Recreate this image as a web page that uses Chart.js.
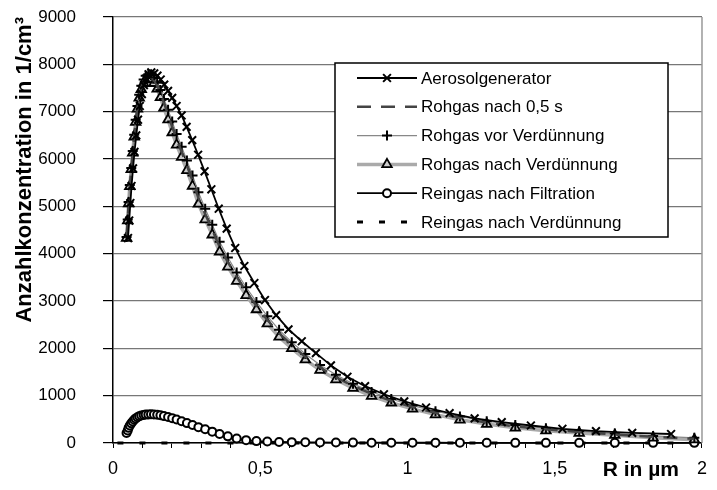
<!DOCTYPE html>
<html>
<head>
<meta charset="utf-8">
<script src="https://cdn.jsdelivr.net/npm/chart.js@4/dist/chart.umd.min.js"></script>
<style>
  html, body { margin: 0; padding: 0; background: #fff; }
  #wrap { width: 717px; height: 490px; }
</style>
</head>
<body>
<div id="wrap"><canvas id="chart"></canvas></div>
<script>
// radius grids (µm), two slightly offset sampling grids as seen in the markers
const gridA = [0.051, 0.055, 0.059, 0.063, 0.068, 0.073, 0.079, 0.085, 0.091, 0.098, 0.105, 0.113, 0.121, 0.130, 0.140, 0.151, 0.162, 0.174, 0.187, 0.201, 0.216, 0.233, 0.250, 0.269, 0.289, 0.311, 0.334, 0.359, 0.386, 0.415, 0.446, 0.480, 0.516, 0.554, 0.596, 0.641, 0.689, 0.740, 0.796, 0.856, 0.920, 0.989, 1.063, 1.143, 1.228, 1.320, 1.419, 1.526, 1.640, 1.763, 1.895]
const gridB = [0.046, 0.050, 0.053, 0.057, 0.062, 0.067, 0.072, 0.077, 0.083, 0.089, 0.096, 0.104, 0.111, 0.120, 0.129, 0.139, 0.150, 0.161, 0.173, 0.187, 0.201, 0.216, 0.233, 0.251, 0.270, 0.290, 0.313, 0.337, 0.362, 0.390, 0.420, 0.452, 0.487, 0.524, 0.564, 0.607, 0.653, 0.703, 0.757, 0.815, 0.878, 0.945, 1.017, 1.095, 1.178, 1.269, 1.366, 1.470, 1.583, 1.704, 1.834, 1.974]
const gridZero = [0.015, 0.5, 1.0, 1.5, 2.0]

// Anzahlkonzentration in 1/cm³
const aerosolgenerator = [4330, 4700, 5070, 5430, 5800, 6150, 6500, 6830, 7120, 7370, 7560, 7700, 7790, 7830, 7810, 7760, 7680, 7570, 7440, 7290, 7120, 6920, 6680, 6400, 6090, 5740, 5360, 4950, 4530, 4120, 3740, 3380, 3020, 2700, 2400, 2150, 1900, 1640, 1400, 1200, 1030, 880, 750, 630, 520, 440, 370, 300, 250, 215, 190]
const rohgasNach05s = [4340, 4710, 5070, 5430, 5790, 6150, 6490, 6800, 7090, 7320, 7510, 7640, 7720, 7750, 7730, 7660, 7550, 7390, 7180, 6940, 6680, 6420, 6150, 5860, 5540, 5180, 4840, 4500, 4150, 3820, 3510, 3200, 2900, 2600, 2320, 2070, 1820, 1600, 1390, 1210, 1040, 890, 760, 640, 530, 430, 350, 290, 230, 180, 130, 90]
const rohgasVorVerd = [4350, 4720, 5090, 5450, 5810, 6170, 6510, 6830, 7120, 7360, 7550, 7680, 7760, 7790, 7770, 7710, 7610, 7460, 7270, 7040, 6790, 6530, 6260, 5970, 5650, 5300, 4950, 4610, 4250, 3920, 3600, 3290, 2980, 2680, 2390, 2130, 1880, 1650, 1440, 1250, 1080, 930, 790, 670, 560, 460, 380, 310, 250, 200, 150, 110]
const rohgasNachVerd = [4330, 4700, 5060, 5420, 5780, 6130, 6470, 6780, 7060, 7290, 7470, 7600, 7680, 7700, 7680, 7600, 7480, 7300, 7080, 6830, 6560, 6300, 6040, 5760, 5430, 5050, 4720, 4400, 4040, 3720, 3420, 3120, 2820, 2520, 2240, 2000, 1760, 1540, 1340, 1160, 990, 850, 720, 600, 490, 400, 320, 260, 210, 165, 110, 70]
const reingasFiltration = [210, 265, 320, 370, 415, 455, 490, 520, 545, 565, 580, 592, 600, 604, 605, 603, 597, 585, 568, 550, 525, 495, 460, 420, 380, 335, 290, 240, 190, 140, 95, 60, 40, 30, 22, 18, 15, 12, 10, 8, 7, 6, 5, 5, 4, 4, 3, 3, 3, 3, 3, 3]
const reingasVerd = [0, 0, 0, 0, 0]

const xLabels = [0, 0.5, 1, 1.5, 2]

const font = "'Liberation Sans', Arial, sans-serif"
const pairs = (xs, ys) => ys.map((y, i) => ({ x: xs[i], y }))

const overlay = {
  id: 'overlay',
  beforeDatasetsDraw(chart) {
    const { ctx, chartArea } = chart
    ctx.save()
    ctx.strokeStyle = '#999'
    ctx.lineWidth = 1.5
    ctx.beginPath()
    ctx.moveTo(chartArea.right, chartArea.top)
    ctx.lineTo(chartArea.right, chartArea.bottom)
    ctx.stroke()
    ctx.restore()
  },
  afterDatasetsDraw(chart) {
    const { ctx, chartArea } = chart
    ctx.save()

    // legend box
    const box = { left: 335, top: 63, right: 668, bottom: 237 }
    ctx.fillStyle = '#fff'
    ctx.fillRect(box.left, box.top, box.right - box.left, box.bottom - box.top)
    ctx.strokeStyle = '#000'
    ctx.lineWidth = 1.5
    ctx.strokeRect(box.left, box.top, box.right - box.left, box.bottom - box.top)

    chart.data.datasets.forEach((ds, i) => {
      const y = 78 + i * 28.8
      ctx.save()
      ctx.strokeStyle = ds.borderColor
      ctx.lineWidth = ds.borderWidth
      ctx.setLineDash(ds.borderDash || [])
      ctx.beginPath()
      ctx.moveTo(357, y)
      ctx.lineTo(417, y)
      ctx.stroke()
      ctx.setLineDash([])
      if (ds.pointRadius > 0) {
        ctx.strokeStyle = ds.pointBorderColor || '#000'
        ctx.fillStyle = ds.pointBackgroundColor || '#fff'
        ctx.lineWidth = ds.pointBorderWidth
        Chart.helpers.drawPoint(ctx, { pointStyle: ds.pointStyle, radius: ds.pointRadius, borderWidth: ds.pointBorderWidth, rotation: 0 }, 387, y)
      }
      ctx.restore()
      ctx.fillStyle = '#000'
      ctx.font = `17px ${font}`
      ctx.textBaseline = 'middle'
      ctx.textAlign = 'left'
      ctx.fillText(ds.label, 421, y + 1)
    })

    // x axis caption sitting in the tick label row
    ctx.font = `bold 21px ${font}`
    ctx.textAlign = 'right'
    ctx.textBaseline = 'middle'
    ctx.fillStyle = '#000'
    ctx.fillText('R in µm', chartArea.right - 23, chartArea.bottom + 27)
    ctx.restore()
  }
}

new Chart(document.getElementById('chart'), {
  type: 'line',
  data: {
    datasets: [
      { label: 'Aerosolgenerator', data: pairs(gridA, aerosolgenerator), borderColor: '#000', borderWidth: 1.8, pointStyle: 'crossRot', pointRadius: 5.5, pointBorderWidth: 2, pointBorderColor: '#000' },
      { label: 'Rohgas nach 0,5 s', data: pairs(gridB, rohgasNach05s), borderColor: '#444', borderWidth: 2.5, borderDash: [14, 10], pointRadius: 0 },
      { label: 'Rohgas vor Verdünnung', data: pairs(gridB, rohgasVorVerd), borderColor: '#888', borderWidth: 1.2, pointStyle: 'cross', pointRadius: 5, pointBorderWidth: 2, pointBorderColor: '#000' },
      { label: 'Rohgas nach Verdünnung', data: pairs(gridB, rohgasNachVerd), borderColor: '#aaa', borderWidth: 3.5, pointStyle: 'triangle', pointRadius: 5.5, pointBorderWidth: 1.8, pointBorderColor: '#000', pointBackgroundColor: '#ccc' },
      { label: 'Reingas nach Filtration', data: pairs(gridB, reingasFiltration), borderColor: '#000', borderWidth: 1.8, pointStyle: 'circle', pointRadius: 4, pointBorderWidth: 2, pointBorderColor: '#000', pointBackgroundColor: '#fff' },
      { label: 'Reingas nach Verdünnung', data: pairs(gridZero, reingasVerd), borderColor: '#000', borderWidth: 3, borderDash: [6, 16], pointRadius: 0 },
    ]
  },
  options: {
    responsive: true,
    maintainAspectRatio: false,
    animation: false,
    clip: false,
    layout: { padding: { top: 17, right: 7, left: 0, bottom: 0 } },
    plugins: { legend: { display: false }, tooltip: { enabled: false } },
    scales: {
      x: {
        type: 'linear',
        min: 0,
        max: 2,
        afterFit: scale => { scale.height = 47 },
        afterBuildTicks: scale => { scale.ticks = Array.from({ length: 21 }, (_, i) => ({ value: i / 10 })) },
        ticks: {
          autoSkip: false,
          maxRotation: 0,
          padding: 10,
          color: '#000',
          font: { family: font, size: 18 },
          callback: value => {
            const hit = xLabels.find(v => Math.abs(v - value) < 1e-6)
            return hit === undefined ? '' : String(hit).replace('.', ',')
          }
        },
        grid: { drawOnChartArea: false, tickLength: 5, tickColor: '#000', tickWidth: 1 },
        border: { color: '#000', width: 1.5 }
      },
      y: {
        min: 0,
        max: 9000,
        afterFit: scale => {
          scale.width = 113
          scale.paddingTop = 10
          scale.paddingBottom = 10
        },
        ticks: { stepSize: 1000, padding: 27, color: '#000', font: { family: font, size: 17 }, callback: value => String(value) },
        grid: { color: '#777', lineWidth: 1.2, tickLength: 10, tickColor: '#000' },
        border: { color: '#000', width: 1.5 },
        title: {
          display: true,
          align: 'end',
          text: 'Anzahlkonzentration in 1/cm³',
          color: '#000',
          font: { family: font, size: 22, weight: 'bold' },
          padding: { top: 12, bottom: 0 }
        }
      }
    }
  },
  plugins: [overlay]
})
</script>
</body>
</html>
